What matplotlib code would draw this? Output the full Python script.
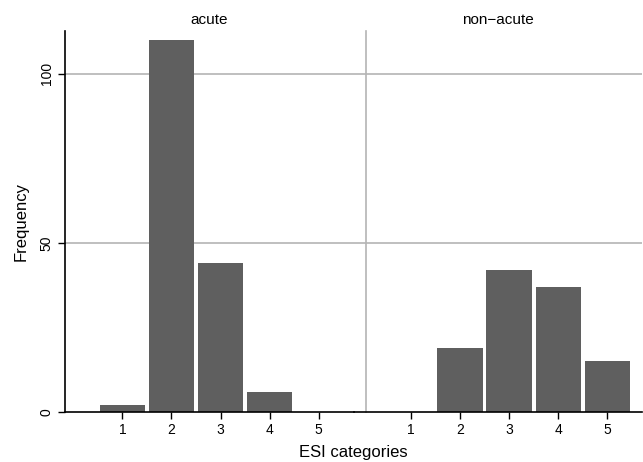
import matplotlib
matplotlib.use("Agg")
import matplotlib.pyplot as plt

plt.rcParams['font.family'] = ['Liberation Sans', 'DejaVu Sans']

categories = [1, 2, 3, 4, 5]
acute = [2, 110, 44, 6, 0]
non_acute = [0, 19, 42, 37, 15]
panel_titles = ["acute", "non\u2212acute"]
y_ticks = [0, 50, 100]

W, H = 643, 462
fig = plt.figure(figsize=(W / 100, H / 100), dpi=100)

bar_color = "#5f5f5f"
grid_color = "#b4b4b4"
xlim = (-0.17, 5.71)
ylim = (0, 112.6)

def px_axes(x0, x1, y_top, y_bot):
    return fig.add_axes([x0 / W, (H - y_bot) / H, (x1 - x0) / W, (y_bot - y_top) / H])

ax1 = px_axes(65, 353.5, 31, 412)
ax2 = px_axes(353.5, 642, 31, 412)

for i, (ax, vals, title) in enumerate(zip([ax1, ax2], [acute, non_acute], panel_titles)):
    ax.set_xlim(*xlim)
    ax.set_ylim(*ylim)
    for yt in y_ticks[1:]:
        ax.axhline(yt, color=grid_color, lw=1.2, zorder=0)
    ax.bar(categories, vals, width=0.92, color=bar_color, zorder=2, linewidth=0)
    ax.set_xticks(categories)
    ax.set_xticklabels([str(c) for c in categories], fontsize=10)
    ax.tick_params(axis='x', direction='out', length=5, width=1, pad=3)
    for s in ['top', 'right']:
        ax.spines[s].set_visible(False)
    ax.spines['bottom'].set_linewidth(1.2)
    ax.set_title(title, fontsize=11, pad=5)
    if i == 0:
        ax.set_yticks(y_ticks)
        ax.set_yticklabels([str(v) for v in y_ticks], rotation=90, va='center', fontsize=10)
        ax.tick_params(axis='y', direction='out', length=5, width=1, pad=3)
        ax.spines['left'].set_linewidth(1.2)
        ax.set_ylabel("Frequency", fontsize=12, labelpad=8)
    else:
        ax.set_yticks([])
        ax.spines['left'].set_position(('axes', 0.042))
        ax.spines['left'].set_color(grid_color)
        ax.spines['left'].set_linewidth(1.2)
    ax.set_facecolor('none')

fig.text((65 + 642) / 2 / W, (H - 452) / H, "ESI categories", ha='center', va='center', fontsize=12)

fig.savefig("out.png", dpi=100)
